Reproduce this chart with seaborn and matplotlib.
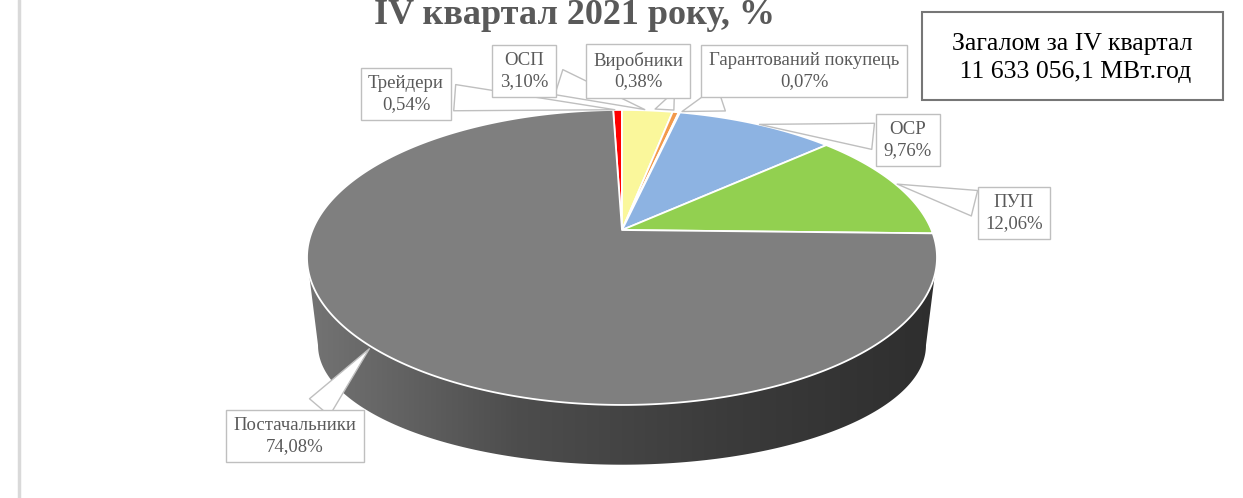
import numpy as np
import matplotlib
matplotlib.use("Agg")
import matplotlib.pyplot as plt
from matplotlib.colors import LinearSegmentedColormap
from matplotlib.patches import Polygon, Rectangle
import seaborn as sns

# data
categories = ["Трейдери", "ОСП", "Виробники", "Гарантований покупець", "ОСР", "ПУП", "Постачальники"]
shares = [0.54, 3.10, 0.38, 0.07, 9.76, 12.06, 74.08]
share_labels = ["0,54%", "3,10%", "0,38%", "0,07%", "9,76%", "12,06%", "74,08%"]
slice_colors = ["#ff0000", "#faf79b", "#f39a4c", "#a5a5a5", "#8db3e2", "#92d050", "#7f7f7f"]
title_text = "IV квартал 2021 року, %"
total_text = "Загалом за IV квартал\n 11 633 056,1 МВт.год"

# label box centres (pixels)
label_pos = [(406, 94), (524, 71), (638, 71), (804, 71), (908, 140), (1014, 213), (295, 436)]

sns.set_theme(style="white")
plt.rcParams["font.family"] = ["Liberation Serif", "DejaVu Serif"]

W, H = 1243, 498
fig = plt.figure(figsize=(W / 100, H / 100), dpi=100)
ax = fig.add_axes([0, 0, 1, 1])

# perspective of the 3-D pie, fitted to the picture
CX, CY = 622, 230
R, K, C = 309.5, 0.186, 142.4


def top_xy(theta, r=1.0):
    t = np.radians(theta)
    x, y = r * np.cos(t), r * np.sin(t)
    d = 1 + K * y
    return CX + R * x / d, CY - C * y / d


def bottom_xy(theta):
    t = np.radians(theta)
    x, y = np.cos(t), np.sin(t)
    d = 1 + K * y
    return CX + 0.965 * R * x / d, CY - 0.81 * C * y / d + 93


# let matplotlib work out the slice angles, then lay them onto the tilted disc
palette = sns.color_palette(slice_colors)
wedges, _ = ax.pie(shares, colors=palette, startangle=90 + shares[0] * 3.6,
                   counterclock=False)
angles = []
for w, col in zip(wedges, palette):
    angles.append((w.theta1, w.theta2))
    th = np.linspace(w.theta1, w.theta2, max(int((w.theta2 - w.theta1) * 2), 4))
    px, py = top_xy(th)
    verts = np.column_stack([np.r_[CX, px], np.r_[CY, py]])
    ax.add_patch(Polygon(verts, closed=True, fc=col, ec="white", lw=1.3,
                         joinstyle="round", zorder=3))
    w.remove()

# side wall (front half) with a left-to-right shade
a0 = 180 + np.degrees(np.arcsin(K))
a1 = 360 - np.degrees(np.arcsin(K))
th = np.linspace(a0, a1, 300)
tx, ty = top_xy(th)
bx, by = bottom_xy(th)
side = Polygon(np.column_stack([np.r_[tx, bx[::-1]], np.r_[ty, by[::-1]]]),
               closed=True, fc="none", ec="none")
ax.add_patch(side)
cmap = LinearSegmentedColormap.from_list("side", ["#747474", "#4d4d4d", "#3b3b3b", "#2e2e2e"])
img = ax.imshow(np.linspace(0, 1, 256).reshape(1, -1), cmap=cmap,
                extent=(tx.min() - 2, tx.max() + 2, by.max() + 2, ty.min() - 2),
                aspect="auto", zorder=1)
img.set_clip_path(side)

# callouts
for (t1, t2), name, pct, pos in zip(angles, categories, share_labels, label_pos):
    mid = (t1 + t2) / 2
    ax.annotate(f"{name}\n{pct}", xy=top_xy(mid), xytext=pos,
                ha="center", va="center", fontsize=13.5, color="#595959",
                linespacing=1.25, zorder=6,
                bbox=dict(boxstyle="square,pad=0.4", fc="white", ec="#bfbfbf", lw=1),
                arrowprops=dict(arrowstyle="wedge,tail_width=1.4,shrink_factor=0.5",
                                fc="white", ec="#bfbfbf", lw=1))

# title (top line is cut off in the source)
ax.text(575, 24, title_text, ha="center", va="baseline", fontsize=26,
        fontweight="bold", color="#595959")

# total box
ax.add_patch(Rectangle((922, 12), 301, 88, fill=False, ec="#767676", lw=1.5, zorder=5))
ax.text(1072, 58, total_text, ha="center", va="center", fontsize=18.5,
        color="black", linespacing=1.4, zorder=6)

ax.axvline(19.5, color="#d9d9d9", lw=2.5, zorder=0)

ax.set_xlim(0, W)
ax.set_ylim(H, 0)
ax.set_aspect("auto")
ax.axis("off")

fig.savefig("out.png", dpi=100)
